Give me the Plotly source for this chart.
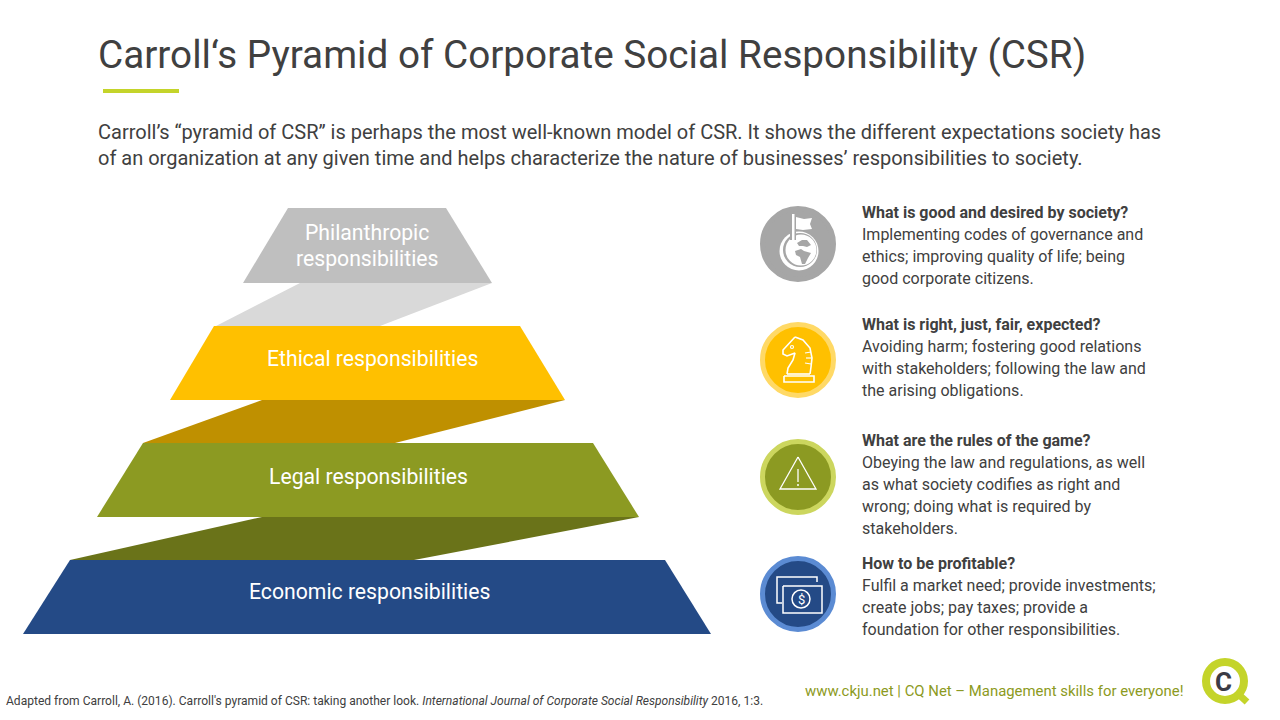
import plotly.graph_objects as go

FONT = "Roboto"
DARK = "#404040"

# pyramid levels, top to bottom
level_names = [["Philanthropic", "responsibilities"], ["Ethical responsibilities"],
               ["Legal responsibilities"], ["Economic responsibilities"]]
level_colors = ["#bfbfbf", "#ffc000", "#8c9a22", "#244a86"]
level_x = [[288, 446, 492, 243], [214, 520, 565, 170], [143, 593, 639, 97], [70, 665, 711, 23]]
level_y = [[208, 208, 283, 283], [326, 326, 400, 400], [443, 443, 517, 517], [560, 560, 634, 634]]
label_x = [367, 372, 368, 369.5]
label_y = [233, 359, 477, 592]

# slanted bands between the levels
band_colors = ["#d9d9d9", "#bf9000", "#6a7319"]
band_x = [[300, 492, 380, 216], [262, 565, 395, 143], [262, 639, 414, 70]]
band_y = [[283, 283, 326, 326], [400, 400, 443, 443], [517, 517, 560, 560]]

# right hand column
question_texts = ["What is good and desired by society?", "What is right, just, fair, expected?",
                  "What are the rules of the game?", "How to be profitable?"]
answer_texts = [
    ["Implementing codes of governance and", "ethics; improving quality of life; being", "good corporate citizens."],
    ["Avoiding harm; fostering good relations", "with stakeholders; following the law and", "the arising obligations."],
    ["Obeying the law and regulations, as well", "as what society codifies as right and", "wrong; doing what is required by", "stakeholders."],
    ["Fulfil a market need; provide investments;", "create jobs; pay taxes; provide a", "foundation for other responsibilities."],
]
question_y = [213, 325, 441, 564]

icon_y = [244, 360, 477, 594]
icon_fill = ["#a6a6a6", "#ffc000", "#8c9a22", "#244a86"]
icon_ring = ["#a6a6a6", "#ffd966", "#ccd65e", "#5b8bd3"]

intro_lines = [
    "Carroll’s “pyramid of CSR” is perhaps the most well-known model of CSR. It shows the different expectations society has",
    "of an organization at any given time and helps characterize the nature of businesses’ responsibilities to society.",
]

fig = go.Figure()


def poly(xs, ys, color):
    fig.add_trace(go.Scatter(x=xs + xs[:1], y=ys + ys[:1], mode="lines", fill="toself", fillcolor=color,
                             line=dict(width=0, color=color), hoverinfo="skip"))


def stroke(xs, ys, color="white", width=1.5):
    fig.add_trace(go.Scatter(x=xs, y=ys, mode="lines", line=dict(color=color, width=width), hoverinfo="skip"))


def dot(x, y, size, fill, ring=None, ring_width=0):
    fig.add_trace(go.Scatter(x=[x], y=[y], mode="markers", hoverinfo="skip",
                             marker=dict(size=size, color=fill, line=dict(color=ring or fill, width=ring_width))))


# annotations sit 1px right and low of where they are asked to, so take that off here
def label(x, y, text, size, color=DARK, anchor="left"):
    fig.add_annotation(x=x - 1 if anchor == "left" else x, y=y - 1, text=text, showarrow=False,
                       xanchor=anchor, yanchor="middle", borderpad=0,
                       align="center" if anchor == "center" else "left",
                       font=dict(family=FONT, size=size, color=color))


for i in range(3):
    poly(band_x[i], band_y[i], band_colors[i])
for i in range(4):
    poly(level_x[i], level_y[i], level_colors[i])
    for j, line in enumerate(level_names[i]):
        label(label_x[i], label_y[i] + 26 * j, line, 21.2, "white", "center")

# round icons
for i in range(4):
    dot(798, icon_y[i], 71, icon_fill[i], icon_ring[i], 5)

# globe and flag
dot(799, 251, 39, "white")
dot(800, 250, 34, "#a6a6a6")
dot(801, 250, 31, "white")
poly([797, 802, 807, 811, 807, 803, 799], [243, 240, 240, 245, 247, 246, 246], "#a6a6a6")
poly([795, 801, 804, 811, 808, 805, 802, 800, 796], [251, 249, 251, 253, 258, 264, 264, 257, 255], "#a6a6a6")
poly([790, 796, 796, 790], [213, 213, 240, 240], "#a6a6a6")
poly([792, 794.5, 794.5, 792], [214, 214, 243, 243], "white")
poly([796, 804, 812, 810, 812, 803, 796], [217, 219, 218, 224, 229, 230, 229], "white")

# knight
stroke([795, 790, 783, 783, 787, 795, 793, 788, 787], [337, 342, 350, 354, 356, 353, 360, 368, 374], width=1.6)
stroke([795, 803, 810, 812, 811, 810], [337, 340, 348, 358, 367, 374], width=1.6)
stroke([787, 810], [374, 374], width=1.6)
stroke([784, 814, 814, 784, 784], [376, 376, 382, 382, 376], width=1.6)
stroke([805, 811], [353, 352], width=1.2)
stroke([806, 812], [358, 358], width=1.2)
stroke([805, 811], [363, 364], width=1.2)
dot(792, 347, 3, "#ffc000", "white", 1.2)

# warning triangle
stroke([798, 780, 816, 798], [457, 489, 489, 457], width=1.3)
stroke([798, 798], [469, 482], width=1.3)
dot(798, 485, 2, "white")

# banknotes
stroke([817, 817, 777, 777, 782], [582, 577, 577, 603, 603], width=1.5)
poly([783, 822, 822, 783], [586, 586, 613, 613], "#244a86")
stroke([783, 822, 822, 783, 783], [586, 586, 613, 613, 586], width=1.5)
dot(801, 599, 18, "#244a86", "white", 1.5)
label(801, 600, "$", 13, "white", "center")

# logo
dot(1225, 681, 38, "white", "#c4d42a", 8)
stroke([1236, 1247], [692, 702], "#c4d42a", 7)
label(1223, 683, "<b>C</b>", 26, "#3b3b45", "center")

# texts
label(98, 55, "Carroll‘s Pyramid of Corporate Social Responsibility (CSR)", 38.7)
stroke([103, 179], [91, 91], "#c4d42a", 4)
label(98, 133, intro_lines[0], 20)
label(98, 159, intro_lines[1], 20)

for i in range(4):
    label(862, question_y[i], "<b>" + question_texts[i] + "</b>", 16)
    for j, line in enumerate(answer_texts[i]):
        label(862, question_y[i] + 22 * (j + 1), line, 16)

label(6, 702, "Adapted from Carroll, A. (2016). Carroll's pyramid of CSR: taking another look. "
              "<i>International Journal of Corporate Social Responsibility</i> 2016, 1:3.", 12.05)
label(805, 692, "www.ckju.net | CQ Net – Management skills for everyone!", 14.9, "#8c9a22")

fig.update_layout(
    width=1280, height=720, margin=dict(l=0, r=0, t=0, b=0),
    plot_bgcolor="white", paper_bgcolor="white", showlegend=False,
    xaxis=dict(range=[0, 1280], visible=False, fixedrange=True),
    yaxis=dict(range=[720, 0], visible=False, fixedrange=True),
)

# the page's default body margin would push the figure 8px in
fig.write_html("out.html", config=dict(displayModeBar=False), post_script="document.body.style.margin='0';")
